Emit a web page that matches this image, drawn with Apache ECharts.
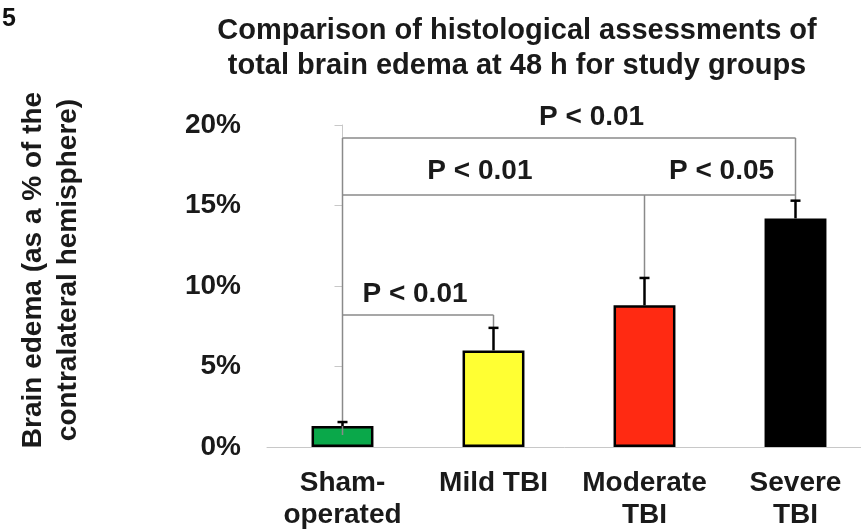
<!DOCTYPE html>
<html><head><meta charset="utf-8">
<script src="https://cdn.jsdelivr.net/npm/echarts@6/dist/echarts.min.js"></script>
<style>html,body{margin:0;padding:0;background:#fff}#c{width:861px;height:531px}</style>
</head><body><div id="c"></div>
<script>
const categories = ['Sham-\noperated', 'Mild TBI', 'Moderate\nTBI', 'Severe\nTBI'];
const values = [1.3, 6.0, 8.8, 14.2];
const errors = [0.25, 1.4, 1.7, 1.1];
const colors = ['#0aa84a', '#ffff33', '#ff2a12', '#000000'];
const yTicks = [0, 5, 10, 15, 20];
const yTitle = 'Brain edema (as a % of the\ncontralateral hemisphere)';
// bracket segments: [x1, y1, x2, y2] in (category index, %)
const brackets = [
  [0, 0.75, 0, 19.2],
  [0, 8.2, 1, 8.2], [1, 8.2, 1, 7.4],
  [0, 15.65, 3, 15.65], [2, 15.65, 2, 10.5], [3, 15.65, 3, 15.3],
  [0, 19.2, 3, 19.2], [3, 19.2, 3, 15.65]
];
// p-value labels: [category index, %, text]
const pLabels = [
  [1.65, 20.5, 'P < 0.01'],
  [0.91, 17.1, 'P < 0.01'],
  [2.51, 17.1, 'P < 0.05'],
  [0.48, 9.5, 'P < 0.01']
];
const FONT = 'Liberation Sans, Arial, sans-serif';
const FS = 28;
const chart = echarts.init(document.getElementById('c'));
chart.setOption({
  animation: false,
  title: {
    text: 'Comparison of histological assessments of\ntotal brain edema at 48 h for study groups',
    left: 512, top: 8, textAlign: 'center',
    textStyle: {fontFamily: FONT, fontWeight: 'bold', fontSize: 29, color: '#1a1a1a', lineHeight: 35}
  },
  graphic: [
    {type: 'text', left: 2, top: 7, style: {text: '5', font: 'bold 25px ' + FONT, fill: '#111'}},
    {type: 'text', x: 51, y: 270, rotation: Math.PI / 2,
     style: {text: yTitle, align: 'center', verticalAlign: 'middle', font: 'bold ' + FS + 'px ' + FONT, lineHeight: 35, fill: '#1a1a1a'}}
  ],
  grid: {left: 267, width: 604, top: 125, bottom: 84, outerBoundsMode: 'none', containLabel: false},
  xAxis: [{
    type: 'category', data: categories,
    axisLine: {lineStyle: {color: '#c8c8c8', width: 1}},
    axisTick: {length: 9, lineStyle: {color: '#c8c8c8'}},
    axisLabel: {margin: 20, fontFamily: FONT, fontWeight: 'bold', fontSize: FS, color: '#1a1a1a', lineHeight: 32, interval: 0}
  }, {
    type: 'value', min: -0.5, max: 3.5, show: false
  }],
  yAxis: {
    type: 'value', min: yTicks[0], max: yTicks[yTicks.length - 1], interval: 5,
    axisLine: {show: true, lineStyle: {color: '#c8c8c8'}},
    axisTick: {show: true, length: 8, lineStyle: {color: '#c8c8c8'}},
    splitLine: {show: false},
    axisLabel: {formatter: '{value}%', margin: 26, fontFamily: FONT, fontWeight: 'bold', fontSize: FS, color: '#1a1a1a'}
  },
  series: [{
    type: 'bar', barWidth: '41%',
    data: values.map((v, i) => ({value: v, itemStyle: {color: colors[i], borderColor: '#000', borderWidth: 2.5}}))
  }, {
    type: 'custom', xAxisIndex: 1, z: 5,
    data: values.map((v, i) => [i, v, errors[i]]),
    renderItem: function (params, api) {
      const x = api.value(0), v = api.value(1), e = api.value(2);
      const p0 = api.coord([x, v]), p1 = api.coord([x, v + e]);
      return {type: 'group', children: [
        {type: 'line', shape: {x1: p0[0], y1: p0[1], x2: p1[0], y2: p1[1]}, style: {stroke: '#000', lineWidth: 2.5}},
        {type: 'line', shape: {x1: p1[0] - 5, y1: p1[1], x2: p1[0] + 5, y2: p1[1]}, style: {stroke: '#000', lineWidth: 2.5}}
      ]};
    }
  }, {
    type: 'custom', xAxisIndex: 1, z: 4, clip: false,
    data: brackets,
    renderItem: function (params, api) {
      const a = api.coord([api.value(0), api.value(1)]), b = api.coord([api.value(2), api.value(3)]);
      return {type: 'line', shape: {x1: a[0], y1: a[1], x2: b[0], y2: b[1]}, style: {stroke: '#8a8a8a', lineWidth: 1.5}};
    }
  }, {
    type: 'custom', xAxisIndex: 1, z: 6, clip: false,
    data: pLabels,
    renderItem: function (params, api) {
      const p = api.coord([api.value(0), api.value(1)]);
      return {type: 'text', style: {text: pLabels[params.dataIndex][2], x: p[0], y: p[1], align: 'center', verticalAlign: 'middle', font: 'bold ' + FS + 'px ' + FONT, fill: '#1a1a1a'}};
    }
  }]
});
</script></body></html>
